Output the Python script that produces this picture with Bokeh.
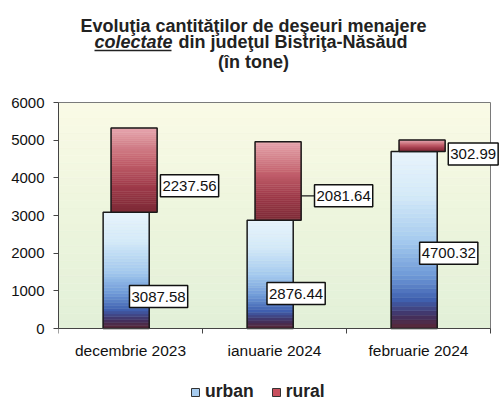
from bokeh.plotting import figure
from bokeh.models import Range1d, FixedTicker, Label, Legend, LegendItem
from bokeh.core.properties import value
from bokeh.embed import file_html
from bokeh.resources import INLINE

# ---------------- data ----------------
categories = ["decembrie 2023", "ianuarie 2024", "februarie 2024"]
urban = [3087.58, 2876.44, 4700.32]
rural = [2237.56, 2081.64, 302.99]
y_ticks = [0, 1000, 2000, 3000, 4000, 5000, 6000]

# ---------------- layout helpers ----------------
FONT = "Liberation Sans"
W, H = 500, 406
LEFT = 58            # frame left (px)
Y0_PX, YTOP_PX = 328, 102   # pixel rows of value 0 and of the axis top
CAT_PX = 144         # px per category
YMAX = y_ticks[-1]
PPU = (Y0_PX - YTOP_PX) / YMAX   # px per data unit (y)
xs = list(range(len(categories)))
X_LO = -0.5
X_HI = len(categories) - 0.5


def px2x(px):
    return X_LO + (px - LEFT) / CAT_PX


def py2y(py):
    return (Y0_PX - py) / PPU


BAR_W = 0.32
URB_OFF = -0.03
RUR_OFF = 0.025
# data label anchors (offsets in category units, y in data units)
urb_lab_dx = [0.195, 0.15, 0.21]
urb_lab_y = [848, 927, 2000]
rur_lab_dx = [0.41, 0.48, 0.38]
rur_lab_y = [3788, 3523, 4636]
leader = [False, True, False]


def hex2rgb(h):
    h = h.lstrip("#")
    return tuple(int(h[i:i + 2], 16) for i in (0, 2, 4))


def grad(stops, t):
    for (t0, c0), (t1, c1) in zip(stops, stops[1:]):
        if t0 <= t <= t1:
            f = (t - t0) / (t1 - t0) if t1 > t0 else 0
            a, b = hex2rgb(c0), hex2rgb(c1)
            return "#%02x%02x%02x" % tuple(int(round(a[i] + (b[i] - a[i]) * f)) for i in range(3))
    return stops[-1][1]


urban_stops = [(0.0, "#5a2836"), (0.07, "#43305e"), (0.16, "#3f5fae"),
               (0.3, "#6f9ad8"), (0.5, "#a6cbef"), (0.75, "#d4e9f8"), (1.0, "#e8f4fc")]
rural_stops = [(0.0, "#7c2a36"), (0.3, "#9e3a4a"), (0.6, "#c2606c"), (1.0, "#e6a6ae")]
bg_stops = [(0.0, "#e2f0d8"), (0.5, "#edf5dd"), (1.0, "#fafae6")]

p = figure(width=W, height=H, output_backend="svg", toolbar_location=None,
           x_range=Range1d(X_LO, px2x(W)), y_range=Range1d(py2y(H), py2y(0)),
           x_axis_location=None,
           min_border_left=LEFT, min_border_right=0, min_border_top=0, min_border_bottom=0)
p.background_fill_color = "white"
p.border_fill_color = "white"
p.outline_line_color = None
p.grid.visible = False

# background gradient bands
NB = 30
bl, bt, bb = [], [], []
for i in range(NB):
    bb.append(YMAX * i / NB)
    bt.append(YMAX * (i + 1) / NB)
    bl.append(grad(bg_stops, (i + 0.5) / NB))
p.quad(left=X_LO, right=X_HI, bottom=bb, top=bt, fill_color=bl, line_color=bl, line_width=0.5)
p.quad(left=[X_LO], right=[X_HI], bottom=[0], top=[YMAX], fill_color=None, line_color="#7a7a7a", line_width=1)

# bars with gradient slices
N = 40
L, R, B, T, C = [], [], [], [], []
for i, x in enumerate(xs):
    for k in range(N):
        L.append(x + URB_OFF - BAR_W / 2); R.append(x + URB_OFF + BAR_W / 2)
        B.append(urban[i] * k / N); T.append(urban[i] * (k + 1) / N)
        C.append(grad(urban_stops, (k + 0.5) / N))
for i, x in enumerate(xs):
    for k in range(N):
        L.append(x + RUR_OFF - BAR_W / 2); R.append(x + RUR_OFF + BAR_W / 2)
        B.append(urban[i] + rural[i] * k / N); T.append(urban[i] + rural[i] * (k + 1) / N)
        C.append(grad(rural_stops, (k + 0.5) / N))

nu = len(xs) * N
p.quad(left=L[:nu], right=R[:nu], bottom=B[:nu], top=T[:nu], fill_color=C[:nu], line_color=C[:nu], line_width=0.5)
p.quad(left=[x + URB_OFF - BAR_W / 2 for x in xs], right=[x + URB_OFF + BAR_W / 2 for x in xs],
       bottom=0, top=urban, fill_color=None, line_color="#1a1a1a", line_width=1.5)
p.quad(left=L[nu:], right=R[nu:], bottom=B[nu:], top=T[nu:], fill_color=C[nu:], line_color=C[nu:], line_width=0.5)
tot = [u + r for u, r in zip(urban, rural)]
p.quad(left=[x + RUR_OFF - BAR_W / 2 for x in xs], right=[x + RUR_OFF + BAR_W / 2 for x in xs],
       bottom=urban, top=tot, fill_color=None, line_color="#1a1a1a", line_width=1.5)

# x axis (drawn inside the frame)
p.segment(x0=[X_LO], y0=[0], x1=[X_HI], y1=[0], line_color="#444444", line_width=1)
bounds = [X_LO + i for i in range(len(categories) + 1)]
p.segment(x0=bounds, y0=0, x1=bounds, y1=-5 / PPU, line_color="#444444", line_width=1)
p.text(x=xs, y=[-22 / PPU] * len(xs), text=categories, text_align="center", text_baseline="middle",
       text_font=value(FONT), text_font_size="15.5px", text_color="#111111")

# leader lines
for i, x in enumerate(xs):
    if leader[i]:
        p.segment(x0=x + RUR_OFF + BAR_W / 2, y0=rur_lab_y[i], x1=x + rur_lab_dx[i], y1=rur_lab_y[i],
                  line_color="#1a1a1a", line_width=1.2)

# data labels
for i, x in enumerate(xs):
    for dx, yy, v in ((urb_lab_dx[i], urb_lab_y[i], urban[i]), (rur_lab_dx[i], rur_lab_y[i], rural[i])):
        p.add_layout(Label(x=x + dx, y=yy, text="%.2f" % v, text_align="center", text_baseline="middle",
                           text_font=FONT, text_font_size="15px", text_color="#111111",
                           background_fill_color="white", border_line_color="#111111",
                           border_line_width=1.5, padding=(2, 6)))

# y axis
p.yaxis.bounds = (0, YMAX)
p.yaxis.ticker = FixedTicker(ticks=y_ticks)
p.yaxis.major_label_text_font = FONT
p.yaxis.major_label_text_font_size = "15px"
p.yaxis.major_label_text_color = "#111111"
p.yaxis.axis_line_color = "#444444"
p.yaxis.major_tick_line_color = "#444444"
p.yaxis.major_tick_out = 5
p.yaxis.major_tick_in = 0
p.yaxis.minor_tick_line_color = None
p.yaxis.major_label_standoff = 9

# title
TFS = "18px"
title_center = px2x(253)
p.text(x=[title_center], y=[py2y(25)], text=["Evoluţia cantităţilor de deşeuri menajere"],
       text_align="center", text_baseline="alphabetic", text_font=value(FONT), text_font_size=TFS,
       text_font_style="bold", text_color="#222222")
p.text(x=[px2x(172)], y=[py2y(41)], text=["colectate"],
       text_align="right", text_baseline="alphabetic", text_font=value(FONT), text_font_size=TFS,
       text_font_style="bold italic", text_color="#222222")
p.text(x=[px2x(178)], y=[py2y(41)], text=["din judeţul Bistriţa-Năsăud"],
       text_align="left", text_baseline="alphabetic", text_font=value(FONT), text_font_size=TFS,
       text_font_style="bold", text_color="#222222")
p.segment(x0=[px2x(94)], y0=[py2y(50)], x1=[px2x(171)], y1=[py2y(50)], line_color="#222222", line_width=1.6)
p.text(x=[title_center], y=[py2y(61)], text=["(în tone)"],
       text_align="center", text_baseline="alphabetic", text_font=value(FONT), text_font_size=TFS,
       text_font_style="bold", text_color="#222222")

# legend (proxy renderers placed outside the visible range)
off = [X_LO - 10]
r_u = p.scatter(x=off, y=[0], marker="square", size=8, fill_color="#a6cbef", line_color="#333333")
r_r = p.scatter(x=off, y=[0], marker="square", size=8, fill_color="#c8505e", line_color="#333333")
legend = Legend(items=[LegendItem(label="urban", renderers=[r_u]), LegendItem(label="rural", renderers=[r_r])],
                orientation="horizontal", location=(127, 4), margin=0, padding=2, spacing=12,
                glyph_width=20, glyph_height=20, label_standoff=0,
                label_text_font=FONT, label_text_font_size="17.5px", label_text_font_style="bold",
                label_text_color="#222222", background_fill_alpha=0, border_line_color=None)
p.add_layout(legend)

open("out.html", "w").write(file_html(p, INLINE))
